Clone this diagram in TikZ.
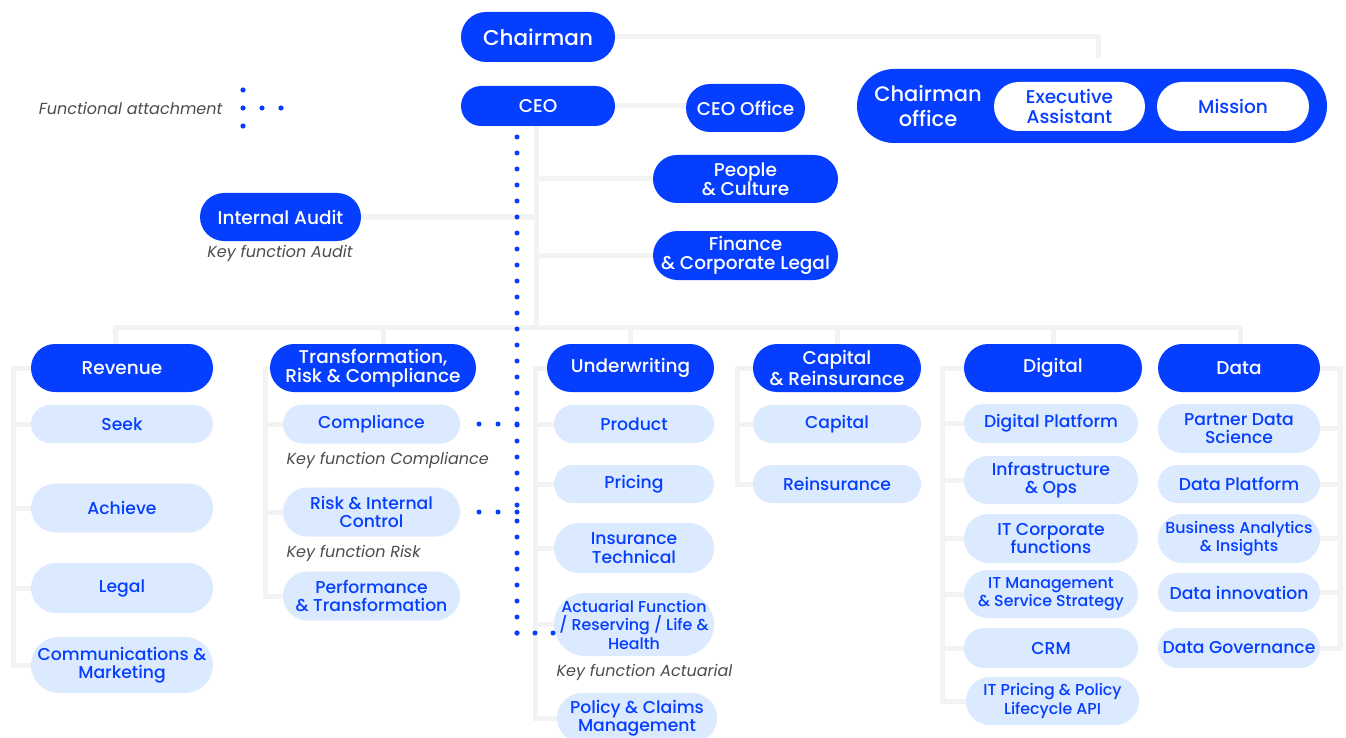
\documentclass[tikz,border=0pt]{standalone}
\usepackage{fontspec}
\setmainfont{Poppins}[UprightFont=* Medium, ItalicFont=* Italic, BoldFont=* SemiBold]
\usetikzlibrary{calc}
\usetikzlibrary{backgrounds}
\definecolor{brand}{RGB}{5,62,255}
\definecolor{pale}{RGB}{219,234,254}
\definecolor{rail}{RGB}{243,243,243}
\definecolor{note}{RGB}{77,77,77}

\begin{document}
\begin{tikzpicture}[x=1pt, y=-1pt,
  pill/.style 2 args={shape=rectangle, minimum width=#1, minimum height=#2,
    rounded corners=#2/2, inner sep=0pt, align=center},
  head/.style={fill=brand, text=white, font=\fontsize{18.5}{19}\selectfont},
  unit/.style={fill=pale, text=brand, font=\fontsize{17.2}{18.5}\selectfont},
  small/.style={font=\fontsize{15.8}{18.5}\selectfont},
  caption/.style={text=note, font=\fontsize{16}{17}\selectfont\itshape},
  link/.style={draw=rail, line width=5pt},
  attach/.style={draw=brand, line width=5pt, line cap=round, dash pattern=on 0pt off 16pt}]
\useasboundingbox (0,0) rectangle (1346,738);

\node[head, pill={154}{50}, font=\fontsize{21.5}{23}\selectfont] (chair) at (538,37) {Chairman};
\node[head, pill={154}{40}] (ceo) at (538,106) {CEO};
\node[head, pill={119}{48}] (ceooff) at (745.5,108) {CEO Office};
\node[head, pill={185}{48}] (people) at (745.5,179) {People\\\& Culture};
\node[head, pill={185}{49}] (finance) at (745.5,255.5) {Finance\\\& Corporate Legal};
\node[head, pill={161}{48}] (audit) at (280.5,217) {Internal Audit};
\node[caption] (auditkey) at (280,253) {Key function Audit};

\node[fill=brand, pill={470}{74}] (office) at (1092,106) {};
\node[text=white, align=center, font=\fontsize{21}{25}\selectfont] (officename) at (928,106) {Chairman\\office};
\node[fill=white, text=brand, pill={151}{49}, font=\fontsize{18.5}{20}\selectfont] (assist) at (1069.5,106.5) {Executive\\Assistant};
\node[fill=white, text=brand, pill={152}{49}, font=\fontsize{18.5}{20}\selectfont] (mission) at (1233,106.5) {Mission};

\node[caption, anchor=east] (legend) at (226,108) {Functional attachment};
\foreach \p in {(243,90),(243,108),(243,126),(262,108),(281,108)} {
 \fill[brand] \p circle (2.6);
}

\node[head, pill={182}{48}] (rev) at (122,368) {Revenue};
\node[head, pill={206}{48}] (trc) at (373,368) {Transformation,\\Risk \& Compliance};
\node[head, pill={167}{48}] (uw) at (630.5,368) {Underwriting};
\node[head, pill={168}{48}] (capre) at (837,368) {Capital\\\& Reinsurance};
\node[head, pill={178}{48}] (dig) at (1053,368) {Digital};
\node[head, pill={162}{48}] (data) at (1239,368) {Data};

\foreach \n/\y/\h/\t in {seek/424/38/Seek, achieve/508/49/Achieve, legal/588/50/Legal,
  comms/665/56/{Communications \&\\Marketing}} {
 \node[unit, pill={182}{\h}] (\n) at (122,\y) {\t};
}
\foreach \n/\y/\h/\t in {compl/424/39/Compliance, riskic/512/49/{Risk \& Internal\\Control},
  perf/596/49/{Performance\\\& Transformation}} {
 \node[unit, pill={177}{\h}] (\n) at (371.5,\y) {\t};
}
\node[caption, anchor=west] (complkey) at (283,460) {Key function Compliance};
\node[caption, anchor=west] (riskkey) at (283,553) {Key function Risk};

\foreach \n/\y/\h/\t in {product/424/38/Product, pricing/484/38/Pricing,
  instech/548/50/{Insurance\\Technical}} {
 \node[unit, pill={160}{\h}] (\n) at (634,\y) {\t};
}
\node[unit, small, pill={160}{63}] (actuarial) at (634,624.5) {Actuarial Function\\/ Reserving / Life \&\\Health};
\node[caption, anchor=west] (actkey) at (553,672) {Key function Actuarial};
\node[unit, pill={160}{50}] (policy) at (637,718) {Policy \& Claims\\Management};

\foreach \n/\y/\t in {capital/424/Capital, reins/484/Reinsurance} {
 \node[unit, pill={168}{38}] (\n) at (837,\y) {\t};
}

\foreach \n/\y/\h/\t in {digplat/423.5/39/Digital Platform, infra/480/48/{Infrastructure\\\& Ops},
  itcorp/538.5/49/{IT Corporate\\functions}, crm/648/40/CRM} {
 \node[unit, pill={174}{\h}] (\n) at (1051,\y) {\t};
}
\node[unit, small, pill={174}{48}] (itmgmt) at (1051,594) {IT Management\\\& Service Strategy};
\node[unit, small, pill={173}{48}] (itpricing) at (1052.5,701) {IT Pricing \& Policy\\Lifecycle API};

\foreach \n/\y/\h/\t in {pds/428.5/49/{Partner Data\\Science}, dplat/484/38/Data Platform,
  dinno/592.5/39/Data innovation, dgov/648/40/Data Governance} {
 \node[unit, pill={162}{\h}] (\n) at (1239,\y) {\t};
}
\node[unit, small, pill={162}{49}] (bai) at (1239,538.5) {Business Analytics\\\& Insights};

\coordinate (officetop) at (1098,58);
\coordinate (spine) at (536,327);
\coordinate (busL) at (115,327);
\coordinate (busR) at (1240,327);
\coordinate (revrail) at (13,0);
\coordinate (trcrail) at (265,0);
\coordinate (uwrail) at (535,0);
\coordinate (caprail) at (737,0);
\coordinate (digrail) at (942,0);
\coordinate (datarail) at (1340,0);
\coordinate (dotfoot) at (517,633);

\begin{scope}[on background layer]
\fill[white] (0,0) rectangle (1346,738);
\draw[link] (chair.east) -| (officetop);
\draw[link] (ceo.east) -- (ceo.east -| ceooff.west);
\draw[link] (ceo.south -| spine) -- (spine);
\foreach \n in {people, finance} {
 \draw[link] (\n.west) -- (\n.west -| spine);
}
\draw[link] (audit.east) -- (audit.east -| spine);
\draw[link] (busL |- rev.north) -- (busL) -- (busR) -- (busR |- data.north);
\draw[link] ([xshift=10pt]trc.north) -- ([xshift=10pt]trc.north |- busL);
\foreach \n in {uw, capre, dig} {
 \draw[link] (\n.north) -- (\n.north |- busL);
}
\draw[link] (rev.west) -| (revrail |- comms.west) -- (comms.west);
\foreach \n in {seek, achieve, legal} {
 \draw[link] (\n.west) -- (\n.west -| revrail);
}
\draw[link] (trc.west) -| (trcrail |- perf.west) -- (perf.west);
\foreach \n in {compl, riskic} {
 \draw[link] (\n.west) -- (\n.west -| trcrail);
}
\draw[link] (uw.west) -| (uwrail |- policy.west) -- (policy.west);
\foreach \n in {product, pricing, instech, actuarial} {
 \draw[link] (\n.west) -- (\n.west -| uwrail);
}
\draw[link] (capre.west) -| (caprail |- reins.west) -- (reins.west);
\draw[link] (capital.west) -- (capital.west -| caprail);
\draw[link] (dig.west) -| (digrail |- itpricing.west) -- (itpricing.west);
\foreach \n in {digplat, infra, itcorp, itmgmt, crm} {
 \draw[link] (\n.west) -- (\n.west -| digrail);
}
\draw[link] (data.east) -| (datarail |- dgov.east) -- (dgov.east);
\foreach \n in {pds, dplat, bai, dinno} {
 \draw[link] (\n.east) -- (\n.east -| datarail);
}
\end{scope}

\draw[attach] (dotfoot) -- (ceo.south -| dotfoot);
\draw[attach, dash pattern=on 0pt off 18pt] (dotfoot) -- (actuarial.west |- dotfoot);
\foreach \n in {compl, riskic} {
 \draw[attach, dash pattern=on 0pt off 19pt] (\n.east -| dotfoot) -- ([xshift=17pt]\n.east);
}
\end{tikzpicture}
\end{document}
